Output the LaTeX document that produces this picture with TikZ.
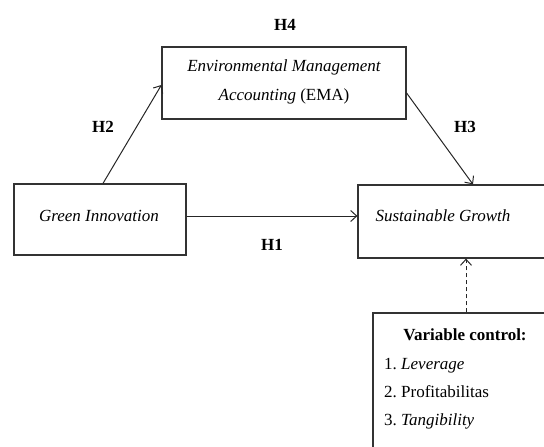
\documentclass[tikz,border=0pt]{standalone}
\usepackage{fontspec}
\setmainfont{Liberation Serif}
\usetikzlibrary{calc,arrows.meta}
\begin{document}
\begin{tikzpicture}[x=1pt,y=-1pt,
  box/.style={draw=black!80,line width=1.2pt,rectangle,inner sep=0pt},
  txt/.style={font=\fontsize{17}{29}\selectfont\itshape,align=center,inner sep=0pt},
  hlab/.style={font=\fontsize{17}{20}\selectfont\bfseries,inner sep=0pt},
  vtxt/.style={font=\fontsize{17}{20}\selectfont,inner sep=0pt,anchor=base west},
  arr/.style={draw=black!85,line width=1pt,-{Straight Barb[length=6pt,width=11pt,line width=1pt]}}]
\useasboundingbox (0,0) rectangle (544,447);
\clip (0,0) rectangle (544,447);
% boxes
\node[box,minimum width=244pt,minimum height=72pt] (ema) at (284,83) {};
\node[box,minimum width=172pt,minimum height=71pt] (gi) at (100,219.5) {};
\node[box,minimum width=202pt,minimum height=73pt] (sg) at (459,221.5) {};
\node[box,minimum width=182pt,minimum height=150pt] (vc) at (464,388) {};
% texts
\node[txt] (ematxt) at (284,82) {Environmental Management\\Accounting \textup{(EMA)}};
\node[txt] (gitxt) at (99,216) {Green Innovation};
\node[txt] (sgtxt) at (443,216) {Sustainable Growth};
\node[vtxt,font=\fontsize{17}{20}\selectfont\bfseries,anchor=base] (vct) at (465,340) {Variable control:};
\node[vtxt] (v1) at (384,369) {1.\ \textit{Leverage}};
\node[vtxt] (v2) at (384,397) {2.\ Profitabilitas};
\node[vtxt] (v3) at (384,425) {3.\ \textit{Tangibility}};
% labels
\node[hlab] (h4) at (285,25) {H4};
\node[hlab] (h2) at (103,127) {H2};
\node[hlab] (h3) at (465,127) {H3};
\node[hlab] (h1) at (272,245) {H1};
% arrows
\draw[arr] (gi.north -| 103,0) -- (ema.west |- 0,85);
\draw[arr] (ema.east |- 0,93) -- (sg.north -| 473,0);
\draw[arr] (gi.east |- 0,216) -- (sg.west |- 0,216);
\draw[arr,dash pattern=on 4pt off 3pt] (vc.north -| 466,0) -- (sg.south -| 466,0);
\end{tikzpicture}
\end{document}
